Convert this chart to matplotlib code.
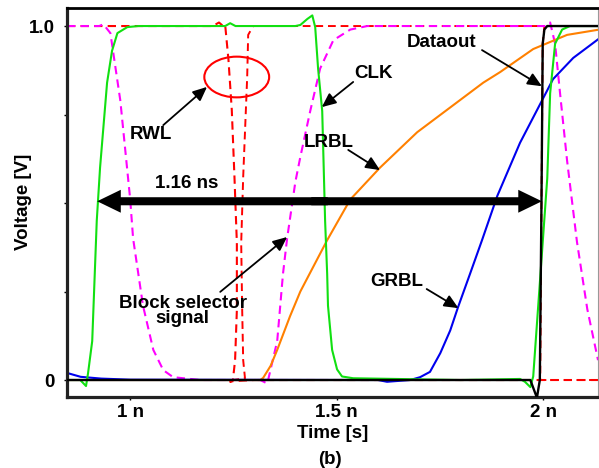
import matplotlib
matplotlib.use('Agg')
import matplotlib.pyplot as plt
from matplotlib.patches import Ellipse

plt.rcParams['font.family'] = ['Liberation Sans', 'DejaVu Sans']
plt.rcParams['font.weight'] = 'bold'

# Curvas (tempo em ns, tensão em V)
clk_t = [0.847, 0.879, 0.893, 0.898, 0.908, 0.919, 0.927, 0.944, 0.956, 0.969, 0.993, 1.02,
         1.23, 1.242, 1.255, 1.40, 1.412, 1.429, 1.441, 1.448, 1.455, 1.465, 1.472, 1.477,
         1.479, 1.489, 1.501, 1.513, 1.540, 1.80, 1.944, 1.956, 1.969, 1.976, 1.993, 2.010,
         2.017, 2.029, 2.046, 2.065, 2.133]
clk_v = [0.0, 0.0, -0.017, 0.02, 0.11, 0.45, 0.60, 0.84, 0.93, 0.98, 0.997, 1.0,
         1.0, 1.008, 1.0, 1.0, 1.003, 1.02, 1.03, 0.997, 0.88, 0.76, 0.45, 0.30,
         0.21, 0.085, 0.03, 0.01, 0.005, 0.0, 0.003, -0.005, -0.02, 0.01, 0.29, 0.57,
         0.81, 0.95, 0.99, 1.0, 1.0]

dout_t = [0.847, 1.969, 1.985, 1.992, 1.996, 1.999, 2.003, 2.010, 2.133]
dout_v = [0.0, 0.0, -0.05, 0.0, 0.5, 0.95, 0.99, 1.0, 1.0]

grbl_t = [0.847, 0.88, 0.93, 1.0, 1.60, 1.622, 1.678, 1.702, 1.726, 1.751, 1.775, 1.794,
          1.823, 1.852, 1.889, 1.944, 1.993, 2.024, 2.073, 2.136]
grbl_v = [0.02, 0.009, 0.004, 0.001, 0.0, -0.005, 0.0, 0.008, 0.023, 0.076, 0.14, 0.206,
          0.30, 0.395, 0.52, 0.67, 0.78, 0.85, 0.91, 0.965]

lrbl_t = [0.847, 1.315, 1.322, 1.34, 1.356, 1.387, 1.412, 1.477, 1.533, 1.605, 1.695,
          1.775, 1.855, 1.896, 1.976, 2.058, 2.136]
lrbl_v = [0.0, 0.0, 0.006, 0.04, 0.085, 0.18, 0.25, 0.395, 0.51, 0.60, 0.70,
          0.77, 0.84, 0.87, 0.935, 0.975, 0.99]

bsel_t = [0.847, 0.925, 0.935, 0.952, 0.976, 1.0, 1.007, 1.031, 1.056, 1.080, 1.104, 1.17,
          1.315, 1.332, 1.356, 1.370, 1.380, 1.40, 1.412, 1.436, 1.460, 1.492, 1.533, 1.574,
          2.005, 2.017, 2.029, 2.041, 2.058, 2.082, 2.107, 2.133]
bsel_v = [1.0, 1.0, 1.005, 0.98, 0.79, 0.51, 0.40, 0.21, 0.085, 0.028, 0.008, 0.0,
          0.0, -0.01, 0.11, 0.30, 0.40, 0.56, 0.63, 0.76, 0.88, 0.96, 0.99, 1.0,
          1.0, 1.01, 0.95, 0.81, 0.62, 0.39, 0.20, 0.056]

rwl0_t = [0.847, 1.20, 1.215, 1.225, 1.230, 1.238, 1.246, 1.2525, 1.2583, 1.2583, 1.254,
          1.2487, 1.242, 1.25, 1.30, 2.133]
rwl0_v = [1.0, 1.0, 1.01, 1.0, 1.003, 0.904, 0.763, 0.573, 0.387, 0.198, 0.056,
          0.0, -0.005, -0.003, 0.0, 0.0]

rwl1_t = [0.847, 1.25, 1.278, 1.2736, 1.2712, 1.2688, 1.2736, 1.2833, 1.2857, 1.2978,
          2.003, 1.999, 1.996, 1.993, 2.0, 2.133]
rwl1_v = [0.0, 0.0, 0.005, 0.056, 0.198, 0.387, 0.573, 0.856, 0.975, 1.0,
          1.0, 0.95, 0.5, 0.0, 0.0, 0.0]

fig = plt.figure(figsize=(5.99, 4.68), dpi=100)
ax = fig.add_axes([0.1119, 0.1517, 0.8865, 0.832])

dash = (4, 2.5)
ax.plot(rwl1_t, rwl1_v, color='#ff0000', lw=1.4, dashes=dash)
ax.plot(rwl0_t, rwl0_v, color='#ff0000', lw=1.5, dashes=dash)
ax.plot(bsel_t, bsel_v, color='#ff00ff', lw=1.5, dashes=dash)
ax.plot(lrbl_t, lrbl_v, color='#ff8000', lw=1.5)
ax.plot(grbl_t, grbl_v, color='#0000ee', lw=1.5)
ax.plot(clk_t, clk_v, color='#11e011', lw=1.5)
ax.plot(dout_t, dout_v, color='black', lw=1.7, zorder=3)

ax.set_xlim(0.847, 2.133)
ax.set_ylim(-0.048, 1.052)
ax.set_xticks([1.0, 1.5, 2.0])
ax.set_xticklabels(['1 n', '1.5 n', '2 n'])
ax.set_yticks([0, 0.25, 0.5, 0.75, 1.0])
ax.set_yticklabels(['0', '', '', '', '1.0'])
ax.tick_params(direction='out', length=2.2, width=1, labelsize=13.5)
ax.tick_params(axis='y', pad=6.5)
ax.tick_params(axis='x', pad=2.5)

for s in ['left', 'bottom']:
    ax.spines[s].set_linewidth(2.3)
    ax.spines[s].set_color('#222222')
ax.spines['top'].set_linewidth(2.0)
ax.spines['right'].set_linewidth(0.8)
ax.spines['right'].set_color('#999999')

ax.set_xlabel('Time [s]', fontsize=13.5, fontweight='bold', labelpad=3.5)
ax.set_ylabel('Voltage [V]', fontsize=13.5, fontweight='bold')
ax.yaxis.set_label_coords(-0.066, 0.5)
fig.text(330 / 599, 1 - 460 / 468, '(b)', fontsize=13.5, fontweight='bold',
         ha='center', va='center')

# Elipse marcando o RWL
ax.add_patch(Ellipse((1.258, 0.856), 0.157, 0.115, fill=False, color='#ff0000', lw=1.5))

# Seta dupla de 1.16 ns
mid = (0.92 + 1.997) / 2
for end, start in [(0.92, mid + 0.02), (1.997, mid - 0.02)]:
    ax.annotate('', xy=(end, 0.505), xytext=(start, 0.505),
                arrowprops=dict(arrowstyle='simple,head_length=1.7,head_width=1.65,tail_width=0.58',
                                mutation_scale=10, color='black', lw=0,
                                shrinkA=0, shrinkB=0))
ax.text(1.136, 0.555, '1.16 ns', fontsize=13.5, fontweight='bold', ha='center', va='center')

# Rótulos com setas
labels = [
    ('RWL', (1.051, 0.694), (1.080, 0.72), (1.186, 0.828)),
    ('CLK', (1.590, 0.867), (1.540, 0.842), (1.464, 0.771)),
    ('LRBL', (1.482, 0.671), (1.528, 0.650), (1.605, 0.593)),
    ('Dataout', (1.755, 0.953), (1.852, 0.932), (1.997, 0.830)),
    ('GRBL', (1.646, 0.278), (1.718, 0.257), (1.795, 0.203)),
    ('Block selector\nsignal', (1.127, 0.195), (1.218, 0.249), (1.38, 0.404)),
]
for txt, pos, tail, head in labels:
    ax.text(pos[0], pos[1], txt, fontsize=13.5, fontweight='bold', ha='center',
            va='center', linespacing=0.85)
    ax.annotate('', xy=head, xytext=tail,
                arrowprops=dict(arrowstyle='-|>,head_length=0.85,head_width=0.38',
                                mutation_scale=10, color='black', lw=1.3,
                                shrinkA=0, shrinkB=0))

fig.savefig('out.png', dpi=100)
